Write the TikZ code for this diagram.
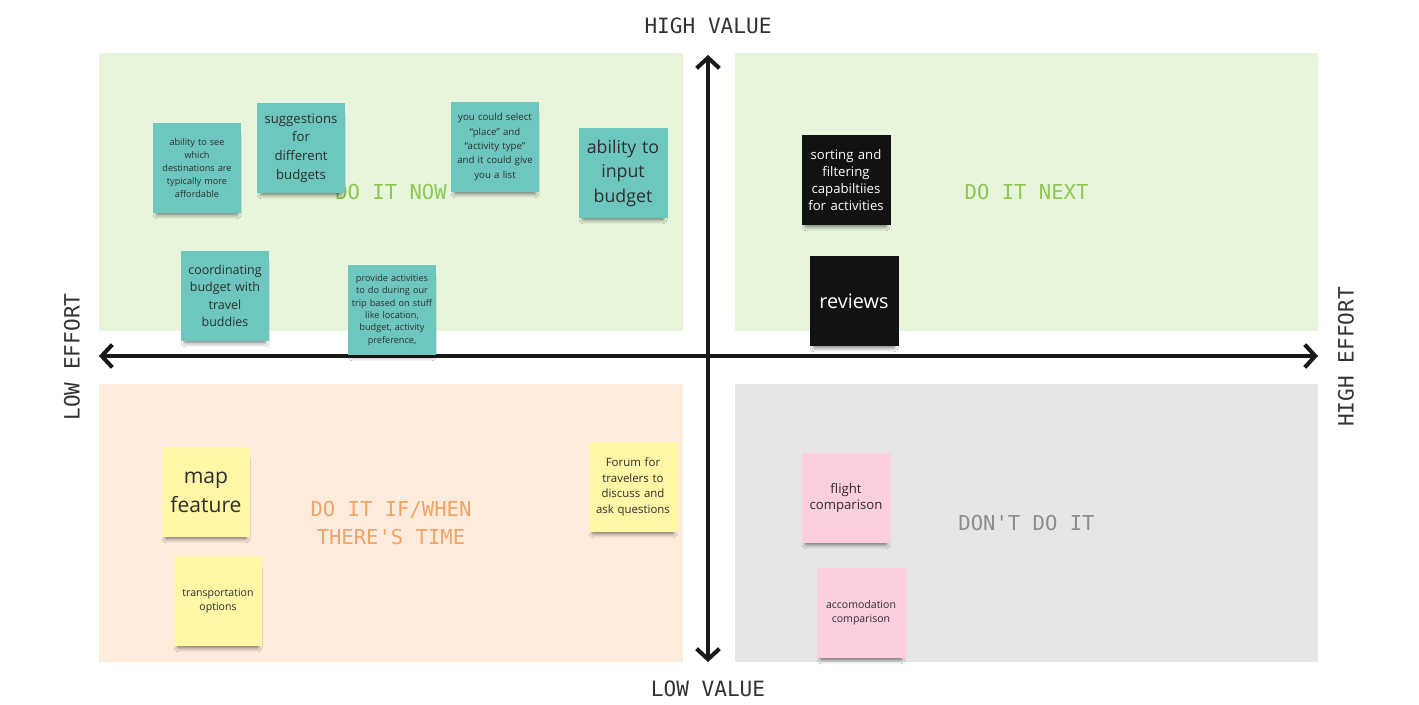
\documentclass[tikz,border=0pt]{standalone}
\usepackage{fontspec}
\setmainfont{Open Sans}
\setmonofont{DejaVu Sans Mono}
\usepackage{tikz}
\usetikzlibrary{arrows.meta,shadows,shadows.blur}

\definecolor{nowgreen}{HTML}{E7F5DC}
\definecolor{timepeach}{HTML}{FDEBDD}
\definecolor{dontgray}{HTML}{E6E6E6}
\definecolor{stickteal}{HTML}{6DC7BF}
\definecolor{stickyellow}{HTML}{FFF6A6}
\definecolor{stickpink}{HTML}{FDCDE0}
\definecolor{stickblack}{HTML}{121212}
\definecolor{lblgreen}{HTML}{8DC850}
\definecolor{lblorange}{HTML}{EFA566}
\definecolor{lblgray}{HTML}{8C8C8C}
\definecolor{inkgray}{HTML}{2E2E2E}

\begin{document}
\begin{tikzpicture}[x=0.02cm, y=-0.02cm,
  quad/.style={minimum width=11.68cm, minimum height=5.56cm, inner sep=0pt,
               fill=#1, align=center, font=\ttfamily\fontsize{11.7}{15.9}\selectfont},
  note/.style={minimum width=1.78cm, minimum height=1.8cm, text width=1.7cm,
               inner sep=0.04cm, align=center, fill=#1, text=inkgray,
               blur shadow={shadow xshift=0pt, shadow yshift=-4pt,
                            shadow scale=0.9, shadow blur radius=2.5pt,
                            shadow opacity=55}},
  axis/.style={line width=2.3pt, draw=black!90,
               {Straight Barb[length=6pt,width=13pt]}-{Straight Barb[length=6pt,width=13pt]}},
  lbl/.style={font=\ttfamily\fontsize{12}{14}\selectfont, text=black!80}
]
\fill[white] (0,0) rectangle (1419,704);
\useasboundingbox (0,0) rectangle (1419,704);

%% ---- quadrants ----
\node[quad=nowgreen,  text=lblgreen]  (q-now)  at (391,192)    {DO IT NOW};
\node[quad=nowgreen,  text=lblgreen]  (q-next) at (1026.5,192) {DO IT NEXT};
\node[quad=timepeach, text=lblorange] (q-time) at (391,523)    {DO IT IF/WHEN\\THERE'S TIME};
\node[quad=dontgray,  text=lblgray]   (q-dont) at (1026.5,523) {DON'T DO IT};

%% ---- axes ----
\coordinate (top)    at (708,55);
\coordinate (bottom) at (708,662);
\coordinate (left)   at (99,356);
\coordinate (right)  at (1318,356);
\draw[axis] (left) -- (right);
\draw[axis] (bottom) -- (top);

%% axis labels
\node[lbl] (l-high) at (708,26)  {HIGH VALUE};
\node[lbl] (l-low)  at (708,689) {LOW VALUE};
\node[lbl, rotate=90] (l-loweff)  at (72,357)   {LOW EFFORT};
\node[lbl, rotate=90] (l-higheff) at (1346,357) {HIGH EFFORT};

%% ---- do it now ----
\node[note=stickteal, font=\fontsize{5.2}{7.4}\selectfont] (n-afford) at (197,168)
  {ability to see\\which\\destinations are\\typically more\\affordable};
\node[note=stickteal, font=\fontsize{7.5}{10.6}\selectfont] (n-budgets) at (301,148)
  {suggestions\\for\\different\\budgets};
\node[note=stickteal, font=\fontsize{5.5}{8.2}\selectfont] (n-select) at (495,147)
  {you could select\\``place'' and\\``activity type''\\and it could give\\you a list};
\node[note=stickteal, font=\fontsize{10.1}{13.9}\selectfont] (n-input) at (623,173)
  {ability to\\input\\budget};
\node[note=stickteal, font=\fontsize{7.1}{9.9}\selectfont] (n-coord) at (225,296)
  {coordinating\\budget with\\travel\\buddies};
\node[note=stickteal, font=\fontsize{5.2}{7}\selectfont] (n-activ) at (392,310)
  {provide activities\\to do during our\\trip based on stuff\\like location,\\budget, activity\\preference,};

%% ---- do it next ----
\node[note=stickblack, text=white, font=\fontsize{7.5}{9.6}\selectfont] (n-sorting) at (846,180)
  {sorting and\\filtering\\capabiltiies\\for activities};
\node[note=stickblack, text=white, font=\fontsize{11.3}{14}\selectfont] (n-reviews) at (854,301)
  {reviews};

%% ---- if/when there's time ----
\node[note=stickyellow, font=\fontsize{12}{16.4}\selectfont] (n-map) at (206,492)
  {map\\feature};
\node[note=stickyellow, font=\fontsize{6}{7.9}\selectfont] (n-transport) at (218,601)
  {transportation\\options};
\node[note=stickyellow, font=\fontsize{6.5}{9}\selectfont] (n-forum) at (633,487)
  {Forum for\\travelers to\\discuss and\\ask questions};

%% ---- don't do it ----
\node[note=stickpink, font=\fontsize{7.5}{9.6}\selectfont] (n-flight) at (846,498)
  {flight\\comparison};
\node[note=stickpink, font=\fontsize{6}{7.9}\selectfont] (n-accom) at (861,613)
  {accomodation\\comparison};

\end{tikzpicture}
\end{document}
